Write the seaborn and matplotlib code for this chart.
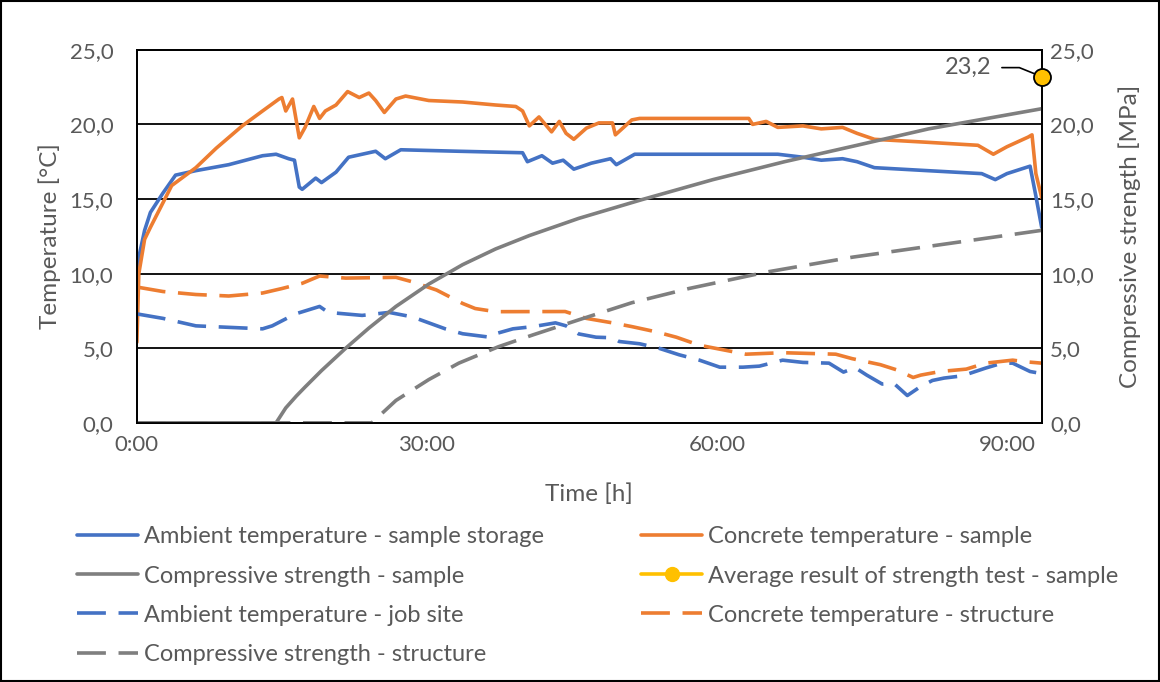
import numpy as np
import pandas as pd
import seaborn as sns
import matplotlib.pyplot as plt
from matplotlib.lines import Line2D
from matplotlib.patches import Rectangle

# --- data (hours, value) ---
amb_storage_h = [0, 0.2, 0.8, 1.4, 2.7, 4.0, 6.1, 9.5, 13.0, 14.4, 15.7, 16.3, 16.8, 17.1, 18.5, 19.1,
                 20.6, 21.9, 23.3, 24.7, 25.7, 27.3, 33.3, 39.9, 40.4, 41.9, 43.0, 44.1, 45.2, 47.0,
                 49.0, 49.6, 51.5, 57.1, 66.3, 68.9, 70.8, 73.0, 74.5, 76.3, 81.8, 87.4, 88.8,
                 90.0, 92.4, 93.0, 93.6]
amb_storage_t = [8.4, 11.1, 12.9, 14.1, 15.4, 16.6, 16.9, 17.3, 17.9, 18.0, 17.7, 17.6, 15.8, 15.65,
                 16.4, 16.1, 16.8, 17.8, 18.0, 18.2, 17.7, 18.3, 18.2, 18.1, 17.5, 17.9, 17.4,
                 17.6, 17.0, 17.4, 17.7, 17.3, 18.0, 18.0, 18.0, 17.8, 17.6, 17.7, 17.5, 17.1,
                 16.9, 16.7, 16.3, 16.7, 17.2, 15.2, 13.1]

conc_sample_h = [0, 0.2, 0.8, 1.4, 2.7, 3.6, 6.1, 8.2, 10.9, 13.0, 14.7, 15.0, 15.4, 16.1, 16.8,
                 17.4, 18.3, 18.9, 19.5, 20.6, 21.8, 23.0, 24.0, 24.7, 25.6, 26.8, 27.8, 30.2,
                 33.7, 37.1, 39.2, 39.9, 40.6, 41.6, 42.9, 43.7, 44.4, 45.2, 46.5, 47.8, 49.2,
                 49.5, 51.2, 52.0, 63.3, 63.7, 65.1, 66.3, 68.9, 70.8, 73.0, 74.5, 76.3, 81.8,
                 87.0, 88.6, 90.0, 92.2, 92.6, 93.0, 93.6]
conc_sample_t = [5.4, 10.0, 12.3, 13.1, 14.75, 15.9, 17.1, 18.4, 19.9, 20.9, 21.7, 21.8, 20.9, 21.7,
                 19.1, 19.8, 21.2, 20.4, 20.9, 21.3, 22.2, 21.8, 22.1, 21.6, 20.8, 21.7, 21.9,
                 21.6, 21.5, 21.3, 21.2, 20.9, 19.9, 20.5, 19.5, 20.2, 19.4, 19.0, 19.75, 20.1,
                 20.1, 19.3, 20.3, 20.4, 20.4, 20.0, 20.2, 19.8, 19.9, 19.7, 19.8, 19.4, 19.0,
                 18.8, 18.6, 18.0, 18.5, 19.15, 19.3, 16.7, 15.1]

amb_site_h = [0, 2.7, 6.1, 9.5, 13.0, 14.0, 16.4, 18.9, 19.8, 23.3, 26.1, 28.5, 31.9, 33.7, 36.5,
              37.1, 38.9, 41.0, 43.3, 44.4, 45.7, 47.5, 49.2, 49.9, 52.0, 54.0, 56.1, 58.2, 60.3,
              62.7, 64.4, 66.8, 68.9, 71.6, 73.1, 74.3, 75.5, 77.1, 78.3, 79.7, 81.0, 82.3,
              83.5, 85.4, 87.8, 89.5, 90.6, 92.4, 93.6]
amb_site_t = [7.3, 7.0, 6.5, 6.4, 6.3, 6.5, 7.3, 7.8, 7.4, 7.2, 7.4, 7.1, 6.3, 5.97, 5.74, 5.97,
              6.3, 6.45, 6.7, 6.5, 5.96, 5.74, 5.7, 5.45, 5.3, 5.0, 4.56, 4.2, 3.73, 3.73, 3.8,
              4.2, 4.05, 4.0, 3.4, 3.7, 3.2, 2.6, 2.65, 1.83, 2.4, 2.84, 3.0, 3.15, 3.67, 4.0,
              4.0, 3.44, 3.3]

conc_struct_h = [0, 2.7, 6.1, 9.5, 13.0, 15.0, 17.1, 18.9, 21.6, 26.8, 28.5, 31.0, 33.7, 35.0,
                 37.1, 44.3, 46.5, 49.2, 51.2, 53.7, 55.8, 58.2, 60.6, 63.0, 66.8, 72.3, 74.0,
                 76.9, 78.6, 80.3, 81.1, 83.1, 85.8, 87.8, 90.6, 91.8, 93.6]
conc_struct_t = [9.1, 8.8, 8.6, 8.5, 8.7, 9.0, 9.35, 9.84, 9.7, 9.75, 9.45, 8.9, 8.0, 7.66,
                 7.45, 7.46, 7.0, 6.7, 6.45, 6.1, 5.74, 5.2, 4.9, 4.6, 4.7, 4.6, 4.3,
                 3.9, 3.55, 3.04, 3.2, 3.44, 3.6, 4.0, 4.2, 4.1, 4.0]

str_sample_h = [0, 14.4, 15.4, 16.5, 17.4, 19.1, 21.6, 24.0, 26.8, 30.2, 33.7, 37.1, 40.6, 45.7,
                52.2, 59.6, 67.0, 74.5, 81.9, 93.6]
str_sample_mpa = [0, 0, 1.0, 1.8, 2.4, 3.5, 5.0, 6.35, 7.8, 9.3, 10.6, 11.65, 12.55, 13.7,
                  14.95, 16.3, 17.5, 18.6, 19.7, 21.05]

str_struct_h = [0, 24.3, 26.8, 30.2, 33.3, 37.4, 41.0, 45.7, 51.2, 57.1, 65.1, 74.0, 83.8, 93.6]
str_struct_mpa = [0, 0, 1.5, 2.9, 4.0, 5.1, 5.9, 6.9, 8.05, 9.0, 10.1, 11.1, 12.0, 12.9]

test_h = [93.6]
test_mpa = [23.2]

BLUE = "#4472C4"
ORANGE = "#ED7D31"
GRAY = "#7F7F7F"
YELLOW = "#FFC000"
TXT = "#595959"
FONT = "Lato"

sns.set_style("white")
plt.rcParams['font.family'] = [FONT, 'DejaVu Sans']
plt.rcParams['font.size'] = 17

fig = plt.figure(figsize=(11.6, 6.82), dpi=100)
ax = fig.add_axes([0.118, 0.380, 0.780, 0.547])
ax2 = ax.twinx()

LW = 2.6
DASH = (0, (8, 3.5))


def draw(axis, h, v, color, ls="-"):
    df = pd.DataFrame({"h": h, "v": v})
    sns.lineplot(ax=axis, data=df, x="h", y="v", color=color, linewidth=LW,
                 linestyle=ls, sort=False, estimator=None)


draw(ax, amb_storage_h, amb_storage_t, BLUE)
draw(ax, conc_sample_h, conc_sample_t, ORANGE)
draw(ax, amb_site_h, amb_site_t, BLUE, DASH)
draw(ax, conc_struct_h, conc_struct_t, ORANGE, DASH)
draw(ax2, str_sample_h, str_sample_mpa, GRAY)
draw(ax2, str_struct_h, str_struct_mpa, GRAY, DASH)
sns.scatterplot(ax=ax2, x=test_h, y=test_mpa, color=YELLOW, s=150, edgecolor="black",
                linewidth=1.3, zorder=5, clip_on=False)
ax2.annotate("23,2", xy=(test_h[0], test_mpa[0]), xytext=(-36, 6.5), textcoords="offset points",
             ha="right", va="center", color=TXT, fontsize=17,
             arrowprops=dict(arrowstyle="-", color="black", lw=1.2, shrinkA=5, shrinkB=1,
                             connectionstyle="angle,angleA=0,angleB=158,rad=0"))

for a in (ax, ax2):
    a.set_xlim(0, 93.6)
    a.set_ylim(0, 25)
    a.set_yticks(np.arange(0, 26, 5))
    a.set_yticklabels([f"{v:.1f}".replace(".", ",") for v in np.arange(0, 26, 5)])
    for s in a.spines.values():
        s.set_color("black")
        s.set_linewidth(1.3)

ax.set_xticks([0, 30, 60, 90])
ax.set_xticklabels(["0:00", "30:00", "60:00", "90:00"])
ax.tick_params(axis="x", length=0, pad=9, labelcolor=TXT, labelsize=16)
ax.tick_params(axis="y", length=0, pad=17, labelcolor=TXT, labelsize=16)
ax2.tick_params(axis="y", length=0, pad=6, labelcolor=TXT, labelsize=16)
for yv in [5, 10, 15, 20]:
    ax.axhline(yv, color="black", lw=1.3, zorder=0)

ax.set_xlabel("Time [h]", color=TXT, fontsize=17.5, labelpad=20)
ax.set_ylabel("Temperature [°C]", color=TXT, fontsize=17.5, labelpad=6)
ax2.set_ylabel("Compressive strength [MPa]", color=TXT, fontsize=17.5, labelpad=18)

# legend, column-wise order so rows read like the reference
handles = [
    Line2D([], [], color=BLUE, lw=LW),
    Line2D([], [], color=GRAY, lw=LW),
    Line2D([], [], color=BLUE, lw=LW, linestyle=DASH),
    Line2D([], [], color=GRAY, lw=LW, linestyle=DASH),
    Line2D([], [], color=ORANGE, lw=LW),
    Line2D([], [], color=YELLOW, lw=LW, marker="o", markersize=10, markeredgecolor=YELLOW),
    Line2D([], [], color=ORANGE, lw=LW, linestyle=DASH),
]
labels = [
    "Ambient temperature - sample storage",
    "Compressive strength - sample",
    "Ambient temperature - job site",
    "Compressive strength - structure",
    "Concrete temperature - sample",
    "Average result of strength test - sample",
    "Concrete temperature - structure",
]
fig.legend(handles, labels, ncol=2, loc="upper left", bbox_to_anchor=(0.058, 0.242),
           frameon=False, fontsize=17, labelcolor=TXT, handlelength=2.6, handletextpad=0.25,
           columnspacing=4.1, labelspacing=0.77, borderaxespad=0)

fig.patches.append(Rectangle((0.001, 0.001), 0.998, 0.998, transform=fig.transFigure,
                             fill=False, edgecolor="black", lw=1.5))

fig.savefig("out.png", dpi=100)
